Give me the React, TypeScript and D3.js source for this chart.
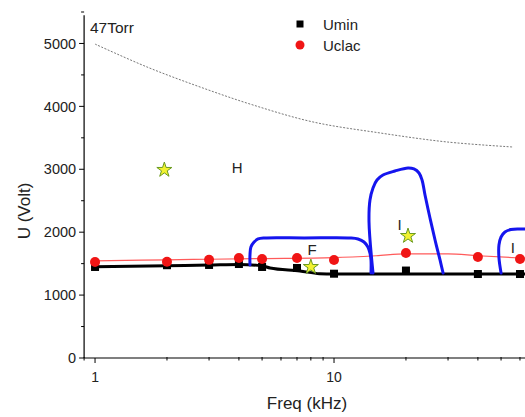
import React from "react";
import * as d3 from "d3";

const W = 525;
const H = 417;

// Umin markers (black squares)
const uminFreq = [1, 2, 3, 4, 5, 7, 10, 20, 40, 60];
const uminVal = [1447, 1475, 1479, 1494, 1447, 1431, 1340, 1390, 1335, 1335];

// Uclac markers (red circles)
const uclacFreq = [1, 2, 3, 4, 5, 7, 10, 20, 40, 60];
const uclacVal = [1526, 1530, 1560, 1590, 1574, 1590, 1558, 1670, 1606, 1574];

// Black fitted line
const blackFreq = [1, 2, 3, 4, 5, 5.4, 7.2, 8.7, 10, 20, 40, 60, 70];
const blackVal = [1450, 1468, 1478, 1488, 1465, 1431, 1383, 1340, 1335, 1335, 1335, 1335, 1335];

// Red thin line
const redFreq = [1, 2, 3, 5, 10, 15, 20, 30, 40, 60, 70];
const redVal = [1545, 1560, 1570, 1580, 1595, 1625, 1655, 1655, 1625, 1590, 1580];

// Dotted gray curve
const dotFreq = [1, 1.65, 2.75, 4.58, 8.17, 15.6, 29.7, 56];
const dotVal = [4990, 4626, 4308, 4022, 3752, 3577, 3434, 3354];

// Blue region curves
const blue1Freq = [4.45, 4.45, 4.49, 4.63, 4.81, 5.14, 7.5, 11.68, 12.6, 13.35, 13.86, 14.13, 14.28, 14.28];
const blue1Val = [1479, 1638, 1765, 1844, 1892, 1908, 1908, 1908, 1892, 1844, 1765, 1669, 1558, 1351];
const blue2Freq = [14.56, 14.01, 14.14, 14.56, 15.13, 16.03, 17.99, 20.4, 21.6, 22.68, 23.35, 24.03, 25.21, 26.47, 27.77, 28.6];
const blue2Val = [1351, 2162, 2512, 2703, 2830, 2909, 2973, 3021, 3005, 2941, 2830, 2591, 2226, 1876, 1558, 1351];
const blue3Freq = [50.0, 49.0, 49.0, 50.0, 51.9, 54.97, 60.1, 69.2];
const blue3Val = [1351, 1590, 1796, 1924, 2003, 2043, 2051, 2051];

// Stars
const starFreq = [1.95, 8.0, 20.4];
const starVal = [2990, 1447, 1940];

// Text labels
const labelText = ["H", "F", "I", "I"];
const labelFreq = [3.93, 8.1, 18.8, 56];
const labelVal = [3036, 1717, 2115, 1749];

const yTicks = [0, 1000, 2000, 3000, 4000, 5000];
const yMinor = [500, 1500, 2500, 3500, 4500, 5500];
const xLabels = [1, 10];

export default function App() {
  const x = d3.scaleLog().domain([0.9, 100]).range([84.1, 573]);
  const y = d3.scaleLinear().domain([0, 5500]).range([358, 12]);

  const zip = (fs: number[], vs: number[]) => fs.map((f, i) => [f, vs[i]] as [number, number]);

  const smooth = d3
    .line<[number, number]>()
    .x((d) => x(d[0]))
    .y((d) => y(d[1]))
    .curve(d3.curveMonotoneX);
  const cr = d3
    .line<[number, number]>()
    .x((d) => x(d[0]))
    .y((d) => y(d[1]))
    .curve(d3.curveCatmullRom.alpha(0.5));

  const xTicksAll = x.ticks(20);
  const font = "'Liberation Sans', Arial, sans-serif";
  const starPath = d3.symbol().type(d3.symbolStar).size(70)() as string;
  const x0 = 84.1;
  const y0 = 358;

  return (
    <svg
      width={W}
      height={H}
      style={{ position: "absolute", left: 0, top: 0, background: "#fff" }}
      fontFamily={font}
    >
      <defs>
        <clipPath id="plot">
          <rect x={x0} y={0} width={W - x0} height={y0} />
        </clipPath>
      </defs>

      {/* dotted curve */}
      <path
        d={cr(zip(dotFreq, dotVal)) || ""}
        fill="none"
        stroke="#777"
        strokeWidth={1}
        strokeDasharray="2,1.5"
      />

      <g clipPath="url(#plot)">
        {/* red thin line */}
        <path d={smooth(zip(redFreq, redVal)) || ""} fill="none" stroke="#ff5a5a" strokeWidth={1.2} />
        {/* black line */}
        <path d={smooth(zip(blackFreq, blackVal)) || ""} fill="none" stroke="#000" strokeWidth={3} />
        {/* blue curves */}
        {[zip(blue1Freq, blue1Val), zip(blue2Freq, blue2Val), zip(blue3Freq, blue3Val)].map((c, i) => (
          <path key={i} d={cr(c) || ""} fill="none" stroke="#1515ee" strokeWidth={3} strokeLinecap="round" strokeLinejoin="round" />
        ))}
        {/* umin squares */}
        {uminFreq.map((f, i) => (
          <rect key={"s" + i} x={x(f) - 4} y={y(uminVal[i]) - 4} width={8} height={8} fill="#000" />
        ))}
        {/* uclac circles */}
        {uclacFreq.map((f, i) => (
          <circle key={"c" + i} cx={x(f)} cy={y(uclacVal[i])} r={5} fill="#f01515" />
        ))}
        {/* stars */}
        {starFreq.map((f, i) => (
          <path
            key={"st" + i}
            d={starPath}
            transform={`translate(${x(f)},${y(starVal[i])})`}
            fill="#f2f230"
            stroke="#6a9a20"
            strokeWidth={1}
          />
        ))}
        {/* labels */}
        {labelText.map((t, i) => (
          <text
            key={"l" + i}
            x={x(labelFreq[i])}
            y={y(labelVal[i])}
            textAnchor="middle"
            dominantBaseline="central"
            fontSize={15}
            fill="#222"
          >
            {t}
          </text>
        ))}
      </g>

      {/* axes */}
      <line x1={x0} x2={x0} y1={y0} y2={y(5450)} stroke="#000" strokeWidth={1.2} />
      <line x1={x0} x2={W} y1={y0} y2={y0} stroke="#000" strokeWidth={1.2} />
      {yTicks.map((t) => (
        <g key={"yt" + t}>
          <line x1={x0 - 5} x2={x0} y1={y(t)} y2={y(t)} stroke="#000" />
          <text x={x0 - 8} y={y(t)} dy="0.36em" textAnchor="end" fontSize={14.5} fill="#222">
            {t}
          </text>
        </g>
      ))}
      {yMinor.map((t) => (
        <line key={"ym" + t} x1={x0 - 3} x2={x0} y1={y(t)} y2={y(t)} stroke="#000" />
      ))}
      {xTicksAll.map((t) => {
        const major = xLabels.includes(t) || t === 100;
        return (
          <line
            key={"xt" + t}
            x1={x(t)}
            x2={x(t)}
            y1={y0 - (major ? 0 : 1)}
            y2={y0 + (major ? 5 : 2.5)}
            stroke="#000"
          />
        );
      })}
      {xLabels.map((t) => (
        <text key={"xl" + t} x={x(t)} y={382} textAnchor="middle" fontSize={14} fill="#222">
          {t}
        </text>
      ))}

      {/* axis titles */}
      <text x={307} y={409} textAnchor="middle" fontSize={17} fill="#222">
        Freq (kHz)
      </text>
      <text
        transform={`translate(30,211) rotate(-90)`}
        textAnchor="middle"
        fontSize={17}
        fill="#222"
      >
        U (Volt)
      </text>

      <text x={90} y={33} fontSize={15.5} fill="#222">
        47Torr
      </text>

      {/* legend */}
      <rect x={296.5} y={20.5} width={7} height={7} fill="#000" />
      <text x={323} y={30} fontSize={15} fill="#222">
        Umin
      </text>
      <circle cx={300} cy={45} r={4.5} fill="#f01515" />
      <text x={323} y={51} fontSize={15} fill="#222">
        Uclac
      </text>
    </svg>
  );
}
